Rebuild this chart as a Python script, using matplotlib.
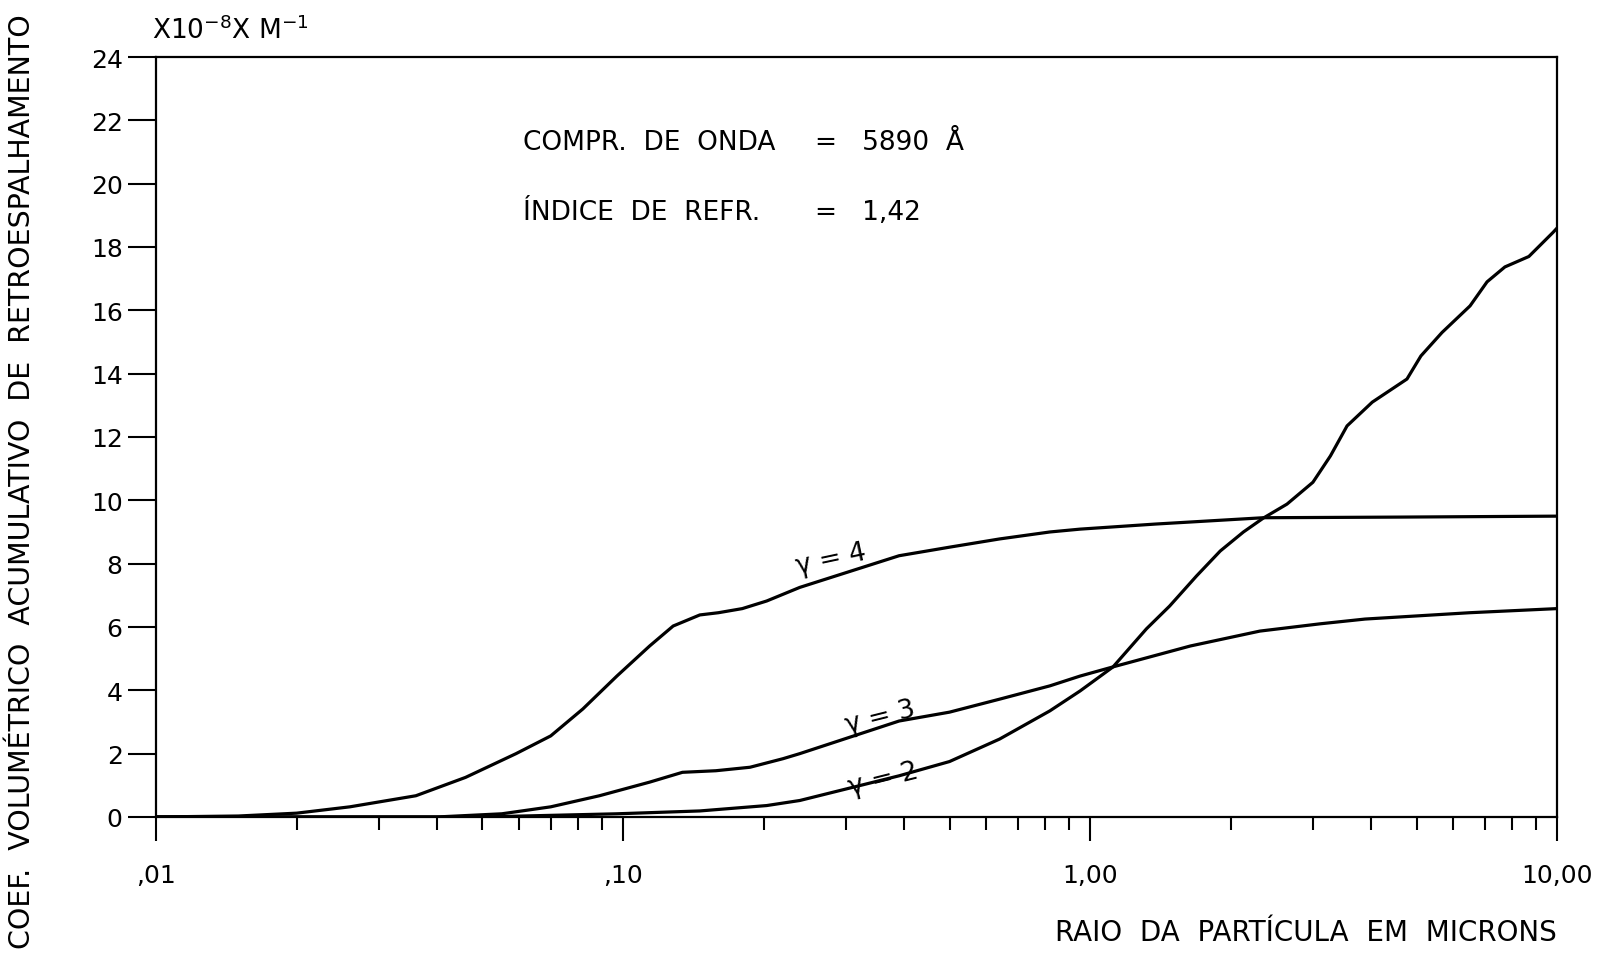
import matplotlib
matplotlib.use("Agg")
import matplotlib.pyplot as plt
from matplotlib.ticker import FixedLocator, NullFormatter, LogLocator

plt.rcParams['font.family'] = ['DejaVu Sans']
plt.rcParams['mathtext.default'] = 'regular'

# ---- data ----
x_g4 = [0.01, 0.015, 0.02, 0.026, 0.036, 0.046, 0.059, 0.070, 0.082, 0.097, 0.114, 0.128,
        0.146, 0.160, 0.180, 0.203, 0.239, 0.39, 0.50, 0.64, 0.82, 0.952, 1.38, 2.35, 4.6, 10.0]
y_g4 = [0.0, 0.03, 0.12, 0.32, 0.67, 1.25, 2.0, 2.56, 3.41, 4.45, 5.4, 6.03,
        6.38, 6.45, 6.58, 6.82, 7.25, 8.25, 8.52, 8.78, 9.0, 9.09, 9.25, 9.45, 9.47, 9.5]

x_g3 = [0.01, 0.04, 0.055, 0.070, 0.089, 0.114, 0.134, 0.158, 0.187, 0.220, 0.239,
        0.39, 0.50, 0.64, 0.82, 0.952, 1.12, 1.64, 2.31, 3.11, 3.88, 6.5, 10.0]
y_g3 = [0.0, 0.0, 0.1, 0.32, 0.67, 1.1, 1.41, 1.46, 1.57, 1.84, 2.0,
        3.03, 3.31, 3.72, 4.14, 4.45, 4.74, 5.4, 5.87, 6.1, 6.25, 6.45, 6.58]

x_g2 = [0.01, 0.05, 0.097, 0.146, 0.203, 0.239, 0.39, 0.50, 0.64, 0.82, 0.952, 1.12,
        1.32, 1.48, 1.69, 1.90, 2.13, 2.35, 2.64, 3.0, 3.27, 3.55, 4.02, 4.77, 5.11,
        5.67, 6.51, 7.08, 7.73, 8.7, 9.8, 10.0]
y_g2 = [0.0, 0.0, 0.1, 0.19, 0.36, 0.52, 1.3, 1.75, 2.46, 3.35, 3.98, 4.74,
        5.94, 6.66, 7.61, 8.4, 9.0, 9.44, 9.88, 10.57, 11.4, 12.35, 13.1, 13.83, 14.56,
        15.3, 16.14, 16.9, 17.37, 17.7, 18.46, 18.6]

curve_labels = ["γ = 4", "γ = 3", "γ = 2"]
y_ticks = list(range(0, 25, 2))
x_major = [0.01, 0.1, 1.0, 10.0]
x_major_labels = [",01", ",10", "1,00", "10,00"]

fig = plt.figure(figsize=(15.99, 9.54), dpi=100)
ax = fig.add_axes([0.0976, 0.1426, 0.8762, 0.7966])

lw = 2.3
for xs, ys in ((x_g4, y_g4), (x_g3, y_g3), (x_g2, y_g2)):
    ax.plot(xs, ys, color='black', lw=lw, solid_capstyle='round',
            solid_joinstyle='round')

ax.set_xscale('log')
ax.set_xlim(0.01, 10.0)
ax.set_ylim(0, 24)

ax.xaxis.set_major_locator(FixedLocator(x_major))
ax.set_xticklabels(x_major_labels)
ax.xaxis.set_minor_locator(LogLocator(base=10, subs=range(2, 10)))
ax.xaxis.set_minor_formatter(NullFormatter())
ax.set_yticks(y_ticks)
ax.set_yticklabels([str(v) for v in y_ticks])

ax.tick_params(axis='y', which='major', direction='out', length=20, width=1.5,
               labelsize=18, pad=4)
ax.tick_params(axis='x', which='major', direction='out', length=17, width=1.5,
               labelsize=18, pad=16)
ax.tick_params(axis='x', which='minor', direction='out', length=9, width=1.5)

for s in ax.spines.values():
    s.set_linewidth(1.6)

# curve labels
ax.text(0.279, 8.15, curve_labels[0], fontsize=19, rotation=12, ha='center', va='center')
ax.text(0.355, 3.15, curve_labels[1], fontsize=19, rotation=14, ha='center', va='center')
ax.text(0.36, 1.2, curve_labels[2], fontsize=19, rotation=14, ha='center', va='center')

# annotations
fig.text(523/1599, 1-143/954, "COMPR.  DE  ONDA", fontsize=19, ha='left', va='center')
fig.text(815/1599, 1-143/954, "=   5890  Å", fontsize=19, ha='left', va='center')
fig.text(523/1599, 1-213/954, "ÍNDICE  DE  REFR.", fontsize=19, ha='left', va='center')
fig.text(815/1599, 1-213/954, "=   1,42", fontsize=19, ha='left', va='center')

# units
fig.text(152/1599, 1-31/954, r"X$10^{-8}$X M$^{-1}$", fontsize=19, ha='left', va='center')

# axis labels
fig.text(22/1599, 0.495, "COEF.  VOLUMÉTRICO  ACUMULATIVO  DE  RETROESPALHAMENTO",
         fontsize=20.5, rotation=90, ha='center', va='center')
fig.text(1557/1599, 1-933/954, "RAIO  DA  PARTÍCULA  EM  MICRONS",
         fontsize=20, ha='right', va='center')

fig.savefig("out.png", dpi=100, facecolor='white')
